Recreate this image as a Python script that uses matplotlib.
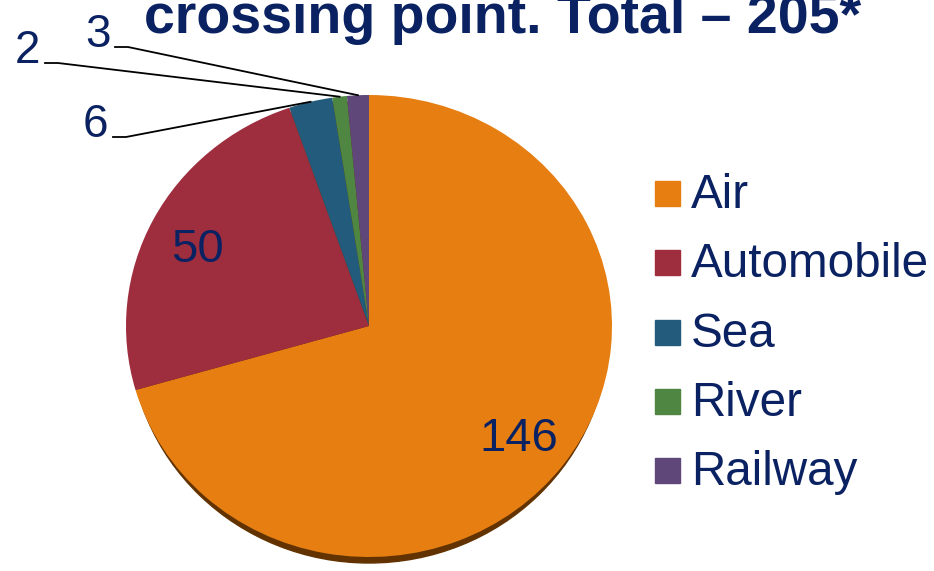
import matplotlib
matplotlib.use("Agg")
import matplotlib.pyplot as plt
from matplotlib.patches import Ellipse, Rectangle
import numpy as np

plt.rcParams['font.family'] = ['Liberation Sans', 'DejaVu Sans']

# data
categories = ["Air", "Automobile", "Sea", "River", "Railway"]
values = [146, 50, 6, 2, 3]
colors = ["#E67E12", "#9E2D3E", "#225B7B", "#4E8642", "#5F4879"]
title_text = "crossing point. Total \u2013 205*"
navy = "#0B2262"

W, H = 934, 571
CX, CY, RX, RY = 369, 326, 243, 231   # pie centre / radii in pixels


def px(x, y):
    # pixel position -> data coords of the pie axes
    return (x - CX) / RX, (CY - y) / RY


fig = plt.figure(figsize=(W / 100, H / 100), dpi=100)
ax = fig.add_axes([0, 0, 1, 1])

# shadow under the pie
ax.add_patch(Ellipse((0, -6 / RY), 2 * 0.985, 2, color="#623300", zorder=0))

wedges, _ = ax.pie(values, colors=colors, startangle=90, counterclock=False,
                   radius=1, wedgeprops=dict(linewidth=0))
for w in wedges:
    w.set_zorder(1)

ax.set_xlim(-CX / RX, (W - CX) / RX)
ax.set_ylim(-(H - CY) / RY, CY / RY)
ax.set_aspect('auto')
ax.axis('off')

# labels inside the big slices
inside_pos = {0: (519, 451), 1: (197, 262)}
for i, (x, y) in inside_pos.items():
    tx, ty = px(x, y)
    ax.text(tx, ty, str(values[i]), ha='center', va='baseline',
            fontsize=34, color=navy, zorder=3)

# outside labels with leader lines for the small slices
outside_pos = {2: (95, 137, 113), 3: (27, 63, 45), 4: (98, 47, 115)}
for i, (x, y, lx) in outside_pos.items():
    tx, ty = px(x, y)
    ax.text(tx, ty, str(values[i]), ha='center', va='baseline',
            fontsize=33, color=navy, zorder=3)
    w = wedges[i]
    mid = np.deg2rad((w.theta1 + w.theta2) / 2)
    ex, ey = np.cos(mid), np.sin(mid)
    x0, y0 = px(lx, y)
    x1, _ = px(lx + 13, y)
    ax.plot([x0, x1, ex], [y0, y0, ey], color="black", lw=1.3, zorder=2)

# legend
for i, (name, col) in enumerate(zip(categories, colors)):
    base = 208 + 69.3 * i
    fig.add_artist(Rectangle((655 / W, 1 - (base - 2) / H), 25 / W, 25 / H,
                             transform=fig.transFigure, color=col))
    fig.text(691 / W, 1 - base / H, name, ha='left', va='baseline',
             fontsize=34.3, color=navy)

# title (only the last line is visible, the rest lies above the image)
fig.text(503 / W, 1 - 33 / H, title_text, ha='center', va='baseline',
         fontsize=40, fontweight='bold', color=navy)

fig.savefig("out.png", dpi=100)
